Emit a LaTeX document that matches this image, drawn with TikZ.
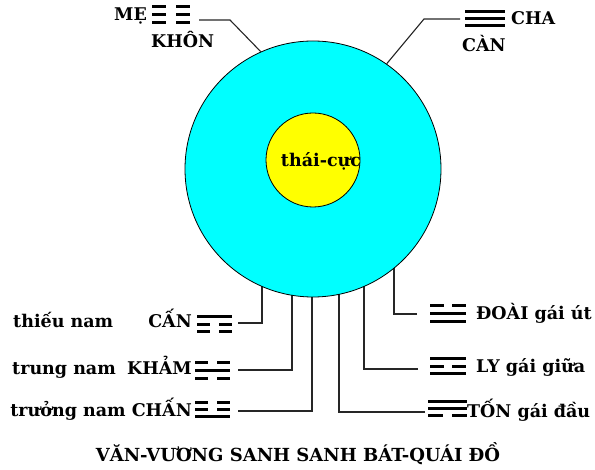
\documentclass[tikz,border=0pt]{standalone}
\usepackage{fontspec}
\setmainfont{DejaVu Serif}
\newcommand\trline[4]{%
  \ifnum#4=1
    \fill[tri] (#1,#2-1.5) rectangle ++(#3,3);
  \else
    \fill[tri] (#1,#2-1.5) rectangle ++(#3*0.38,3);
    \fill[tri] (#1+#3*0.62,#2-1.5) rectangle ++(#3*0.38,3);
  \fi}
% x, ytop, width, spacing, top, mid, bottom
\newcommand\trig[7]{%
  \trline{#1}{#2}{#3}{#5}%
  \trline{#1}{#2+#4}{#3}{#6}%
  \trline{#1}{#2+2*#4}{#3}{#7}}
\begin{document}
\begin{tikzpicture}[x=1pt,y=-1pt,
  tri/.style={black},
  conn/.style={draw=black!85,line width=1.1pt},
  lbl/.style={font=\bfseries\fontsize{17.5}{20}\selectfont,inner sep=0pt},
  ttl/.style={font=\bfseries\fontsize{18}{20}\selectfont,inner sep=0pt}]
\useasboundingbox (0,0) rectangle (595,470);
% bottom connectors (ends hidden under circle)
\coordinate (cA) at (238,323); \coordinate (cAv) at (262,200);
\coordinate (kA) at (238,370); \coordinate (kAv) at (292,200);
\coordinate (chA) at (238,411); \coordinate (chAv) at (312,200);
\coordinate (tA) at (425,412); \coordinate (tAv) at (339,200);
\coordinate (lA) at (418,369); \coordinate (lAv) at (364,200);
\coordinate (dA) at (417,314); \coordinate (dAv) at (394,200);
\draw[conn] (cA) -| (cAv);
\draw[conn] (kA) -| (kAv);
\draw[conn] (chA) -| (chAv);
\draw[conn] (tA) -| (tAv);
\draw[conn] (lA) -| (lAv);
\draw[conn] (dA) -| (dAv);
% circles
\node[circle,fill={rgb,255:red,0;green,255;blue,255},draw=black,line width=0.8pt,
      minimum size=256pt,inner sep=0pt] (outer) at (313,169) {};
\node[circle,fill={rgb,255:red,255;green,255;blue,0},draw=black,line width=0.8pt,
      minimum size=94pt,inner sep=0pt] (inner) at (313,160) {};
\node[lbl,anchor=base] (tc) at (321,167) {thái-cực};
% top connectors
\coordinate (mA) at (199,20); \coordinate (mB) at (230,20);
\coordinate (pA) at (460,19); \coordinate (pB) at (424,19);
\draw[conn] (mA) -- (mB) -- (outer.114);
\draw[conn] (pA) -- (pB) -- (outer.55);
% trigrams
\trig{152}{7}{38}{8}{0}{0}{0}
\trig{465}{12}{40}{7}{1}{1}{1}
\trig{197}{317}{35}{7.5}{1}{0}{0}
\trig{195}{363}{35}{8}{0}{1}{0}
\trig{195}{403}{35}{7}{0}{0}{1}
\trig{430}{306}{36}{8}{0}{1}{1}
\trig{430}{359}{36}{7.5}{1}{0}{1}
\trig{428}{402}{39}{7}{1}{1}{0}
% labels
\node[lbl,anchor=base west] (me) at (114,21) {MẸ};
\node[lbl,anchor=base west] (khon) at (151,48) {KHÔN};
\node[lbl,anchor=base west] (cha) at (511,25) {CHA};
\node[lbl,anchor=base west] (can) at (462,52) {CÀN};
\node[lbl,anchor=base west] (tn) at (13,328) {thiếu nam};
\node[lbl,anchor=base east] (cn) at (192,328) {CẤN};
\node[lbl,anchor=base west] (trn) at (12,375) {trung nam};
\node[lbl,anchor=base east] (km) at (192,375) {KHẢM};
\node[lbl,anchor=base east] (chn) at (192,417) {trưởng nam CHẤN};
\node[lbl,anchor=base west] (doai) at (476,320) {ĐOÀI gái út};
\node[lbl,anchor=base west] (ly) at (476,373) {LY gái giữa};
\node[lbl,anchor=base west] (ton) at (467,418) {TỐN gái đầu};
\node[ttl,anchor=base] (title) at (298,461) {VĂN-VƯƠNG SANH SANH BÁT-QUÁI ĐỒ};
\end{tikzpicture}
\end{document}
